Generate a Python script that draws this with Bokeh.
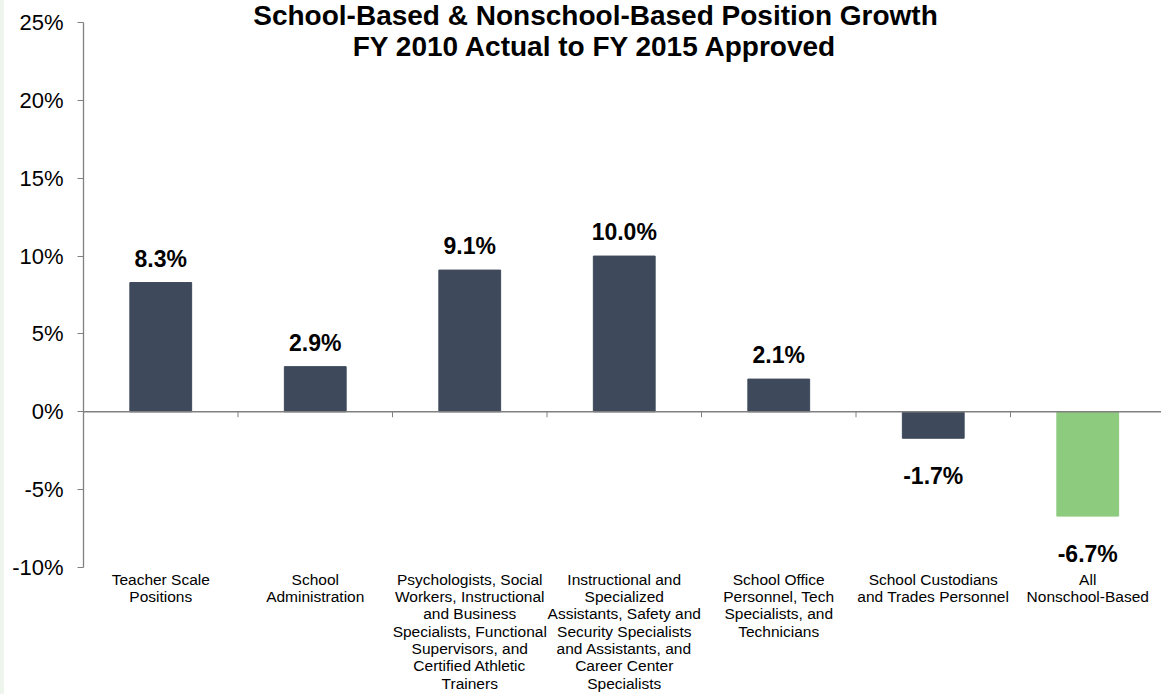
from bokeh.plotting import figure
from bokeh.layouts import row
from bokeh.models import (ColumnDataSource, Range1d, FixedTicker, PrintfTickFormatter,
                          Span, Div)
from bokeh.core.properties import value
from bokeh.embed import file_html
from bokeh.resources import INLINE

# ---- data ----
categories = [
    "Teacher Scale\nPositions",
    "School\nAdministration",
    "Psychologists, Social\nWorkers, Instructional\nand Business\nSpecialists, Functional\nSupervisors, and\nCertified Athletic\nTrainers",
    "Instructional and\nSpecialized\nAssistants, Safety and\nSecurity Specialists\nand Assistants, and\nCareer Center\nSpecialists",
    "School Office\nPersonnel, Tech\nSpecialists, and\nTechnicians",
    "School Custodians\nand Trades Personnel",
    "All\nNonschool-Based",
]
growth = [8.3, 2.9, 9.1, 10.0, 2.1, -1.7, -6.7]
value_labels = ["8.3%", "2.9%", "9.1%", "10.0%", "2.1%", "-1.7%", "-6.7%"]
bar_colors = ["#3E4A5B"] * 6 + ["#8DCB7F"]
y_ticks = [-10, -5, 0, 5, 10, 15, 20, 25]
title_lines = ["School-Based & Nonschool-Based Position Growth",
               "FY 2010 Actual to FY 2015 Approved"]

FONT = "Liberation Sans"
n = len(categories)
xs = [i + 0.5 for i in range(n)]
ymin, ymax = min(y_ticks), max(y_ticks)

# layout geometry (pixels)
STRIP = 4
W, H = 1161 - STRIP, 694
LEFT = 83 - STRIP
TOP_PX, BOT_PX = 22, 567
PX = (BOT_PX - TOP_PX) / (ymax - ymin)       # pixels per percentage point
y_lo = ymin - (H - BOT_PX) / PX
y_hi = ymax + TOP_PX / PX
x_hi = (W - LEFT) / 154.5

src = ColumnDataSource(dict(
    x=xs, top=growth, color=bar_colors, label=value_labels,
    yoff=[-24 if v >= 0 else 38 for v in growth],
))

p = figure(width=W, height=H, output_backend="svg", toolbar_location=None,
           x_range=Range1d(0, x_hi), y_range=Range1d(y_lo, y_hi),
           min_border_left=LEFT, min_border_right=0, min_border_top=0,
           min_border_bottom=0)
p.outline_line_color = None
p.grid.visible = False
p.xaxis.visible = False
p.background_fill_color = "white"
p.border_fill_color = "white"

# bars
p.vbar(x="x", top="top", bottom=0, width=0.40, color="color", source=src)

# value labels
p.text(x="x", y="top", text="label", y_offset="yoff", source=src,
       text_align="center", text_baseline="middle",
       text_font=value(FONT), text_font_style="bold",
       text_font_size="23px", text_color="black")

# zero line and category boundary ticks
p.add_layout(Span(location=0, dimension="width", line_color="#808080", line_width=1.5))
bounds = list(range(1, n))
p.segment(x0=bounds, x1=bounds, y0=[0] * len(bounds), y1=[-0.35] * len(bounds),
          line_color="#808080", line_width=1)

# category labels below the plotting region
p.text(x=xs, y=[ymin] * n, text=categories, y_offset=3,
       text_align="center", text_baseline="top", line_height=1.02,
       text_font=value(FONT), text_font_size="15.5px", text_color="black")

# y axis
ya = p.yaxis[0]
ya.ticker = FixedTicker(ticks=y_ticks)
ya.bounds = (ymin, ymax)
ya.formatter = PrintfTickFormatter(format="%d%%")
ya.axis_line_color = "#808080"
ya.axis_line_width = 1.3
ya.major_tick_line_color = "#808080"
ya.major_tick_out = 6
ya.major_tick_in = 0
ya.minor_tick_line_color = None
ya.major_label_text_font = FONT
ya.major_label_text_font_size = "22px"
ya.major_label_text_color = "black"
ya.major_label_standoff = 14

# title
p.text(x=[3.314] * 2, y=[ymax + 7 / PX, ymax - 24 / PX], text=title_lines,
       text_align="center", text_baseline="middle",
       text_font=value(FONT), text_font_style="bold",
       text_font_size="28px", text_color="black")

strip = Div(width=STRIP, height=H, margin=0, styles={"background-color": "#EEF5EC"})
layout = row(strip, p, spacing=0, margin=0)

open("out.html", "w").write(file_html(layout, INLINE))
